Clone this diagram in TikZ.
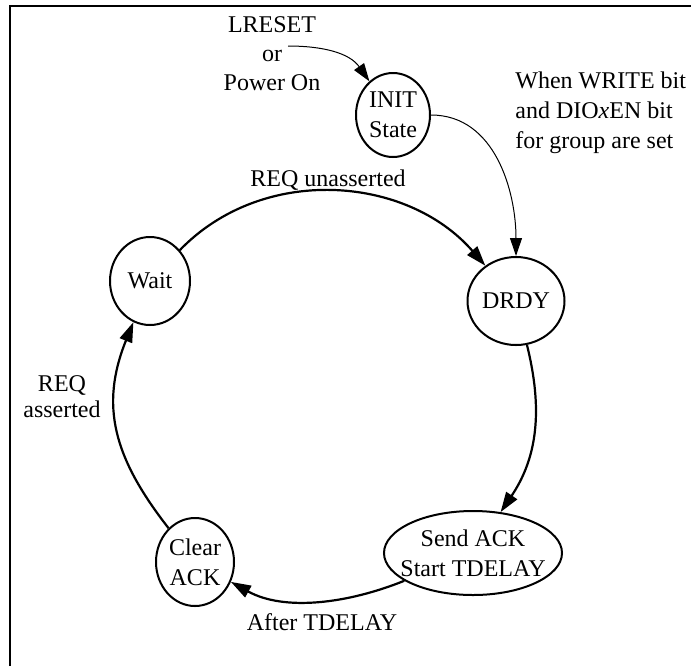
\documentclass[tikz,border=0pt]{standalone}
\usepackage{fontspec}
\setmainfont{Liberation Serif}
\usepackage{tikz}
\usetikzlibrary{positioning,arrows.meta,shapes.geometric}

\tikzset{
  state/.style={draw, ellipse, line width=1pt, inner sep=0pt, align=center},
  txt/.style={inner sep=0pt, align=center},
  move/.style={line width=1.1pt, -{Triangle[length=10pt,width=6.5pt]}},
  thinmove/.style={line width=0.5pt, -{Triangle[length=9pt,width=6pt]}}
}

\begin{document}
\begin{tikzpicture}[x=0.5pt, y=-0.5pt, font=\fontsize{12}{15}\selectfont]
            \useasboundingbox (0,0) rectangle (691,666);
            \draw[line width=1pt] (10,666) -- (10,6) -- (691,6);

            % states
            \node[state, minimum width=37pt, minimum height=42pt] (init) at (393,115) {INIT\\State};
            \node[state, minimum width=48.5pt, minimum height=44pt] (drdy) at (516,301) {DRDY};
            \node[state, minimum width=89pt, minimum height=42pt, inner xsep=-5.5pt, inner ysep=1pt] (sendack) at (473,553) {Send ACK\\Start TDELAY};
            \node[state, minimum width=39pt, minimum height=44pt] (clear) at (195,562) {Clear\\ACK};
            \node[state, minimum width=40pt, minimum height=44pt] (wait) at (150,281) {Wait};

            % texts
            \node[txt, font=\fontsize{12}{14.5}\selectfont] (reset) at (272,54) {LRESET\\or\\Power On};
            \coordinate (resetout) at (288,46);
            \node[txt, anchor=west, align=left] (cond) at (515,113) {When WRITE bit\\and DIO\textit{x}EN bit\\for group are set};
            \node[txt] (unasserted) at (328,180) {REQ unasserted};
            \node[txt, font=\fontsize{12}{13}\selectfont] (asserted) at (62,397) {REQ\\asserted};
            \node[txt] (after) at (322,622) {After TDELAY};

            % transitions
            \draw[thinmove] (resetout) to[out=0, in=125] (init);
            \draw[thinmove] (init.east) to[out=0, in=90] (drdy.north);
            \draw[move] (wait) to[out=46, in=131] (drdy);
            \draw[move] (drdy) to[out=-76, in=56] (sendack);
            \draw[move] (sendack) to[out=-158, in=-29, looseness=0.9] (clear);
            \draw[move] (clear) to[out=128, in=-112, looseness=1.1] (wait);
        \end{tikzpicture}
\end{document}
